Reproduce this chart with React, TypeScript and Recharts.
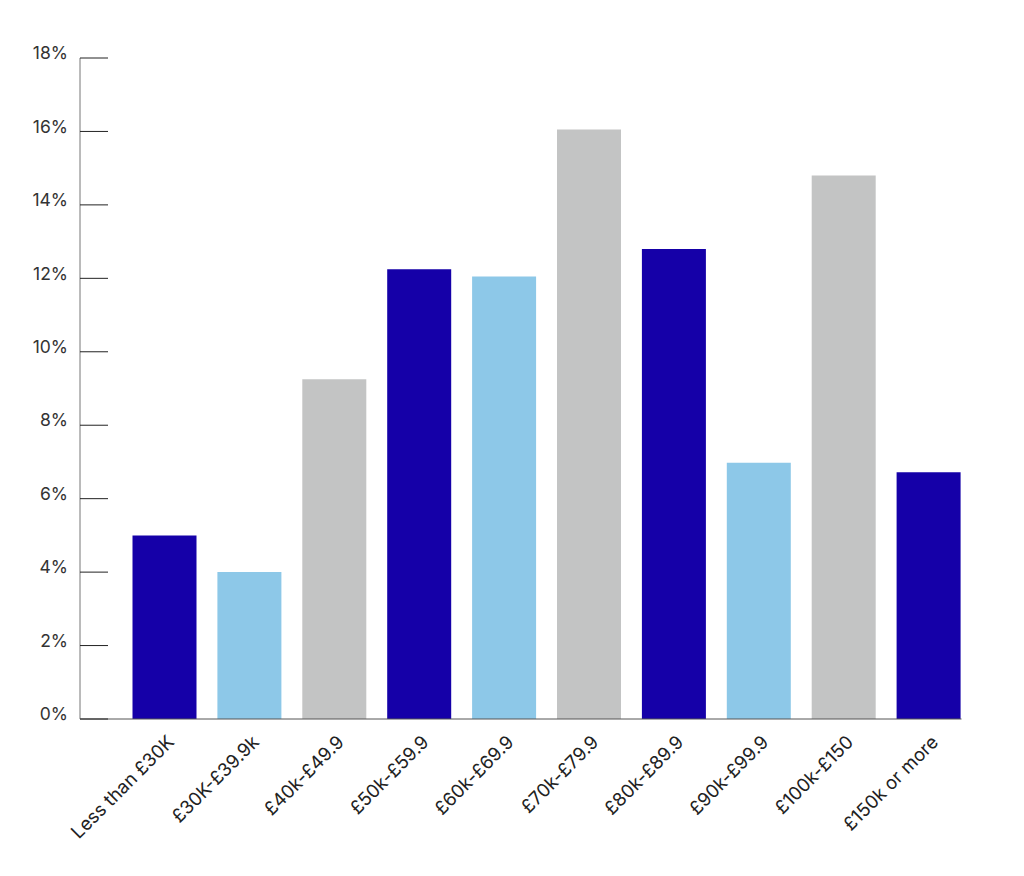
import React from "react";
import { BarChart, Bar, XAxis, YAxis, Cell } from "recharts";

const categories = [
  "Less than £30K",
  "£30K-£39.9k",
  "£40k-£49.9",
  "£50k-£59.9",
  "£60k-£69.9",
  "£70k-£79.9",
  "£80k-£89.9",
  "£90k-£99.9",
  "£100k-£150",
  "£150k or more",
];
const values = [5.0, 4.0, 9.25, 12.25, 12.05, 16.05, 12.8, 6.98, 14.8, 6.72];
const barColors = [
  "#1500A8",
  "#8DC8E8",
  "#C3C4C4",
  "#1500A8",
  "#8DC8E8",
  "#C3C4C4",
  "#1500A8",
  "#8DC8E8",
  "#C3C4C4",
  "#1500A8",
];
const yTicks = [0, 2, 4, 6, 8, 10, 12, 14, 16, 18];

const data = categories.map((name, i) => ({ name, value: values[i], color: barColors[i] }));

const FONT = "Inter, 'Noto Sans', sans-serif";

const YTick = (props: any) => {
  const { x, y, payload } = props;
  return (
    <g>
      <line x1={x + 12} x2={x + 40} y1={y} y2={y} stroke="#222" strokeWidth={1} />
      <text
        x={x}
        y={y - 5}
        dy="0.355em"
        textAnchor="end"
        fontSize={17.5}
        fontFamily={FONT}
        fill="#333"
      >
        {`${payload.value}%`}
      </text>
    </g>
  );
};

const XTick = (props: any) => {
  const { x, y, payload } = props;
  return (
    <g transform={`translate(${x + 1},${y + 15})`}>
      <text
        x={0}
        y={0}
        dy="0.71em"
        textAnchor="end"
        transform="rotate(-45)"
        fontSize={18.5}
        fontFamily={FONT}
        fill="#222"
      >
        {payload.value}
      </text>
    </g>
  );
};

export default function App() {
  return (
    <div style={{ position: "absolute", left: 0, top: 0, background: "#fff" }}>
      <BarChart
        width={1024}
        height={876}
        data={data}
        margin={{ top: 58, right: 62.5, bottom: 0, left: 0 }}
        barSize={64}
      >
        <XAxis
          dataKey="name"
          interval={0}
          height={157}
          padding={{ left: 42.5, right: -10 }}
          axisLine={{ stroke: "#555", strokeWidth: 1 }}
          tickLine={false}
          tickSize={0}
          tickMargin={0}
          tick={<XTick />}
        />
        <YAxis
          width={80}
          domain={[0, 18]}
          ticks={yTicks}
          interval={0}
          axisLine={{ stroke: "#777", strokeWidth: 1 }}
          tickLine={false}
          tickSize={0}
          tickMargin={12}
          tick={<YTick />}
        />
        <Bar dataKey="value" isAnimationActive={false}>
          {data.map((d, i) => (
            <Cell key={i} fill={d.color} />
          ))}
        </Bar>
      </BarChart>
    </div>
  );
}
